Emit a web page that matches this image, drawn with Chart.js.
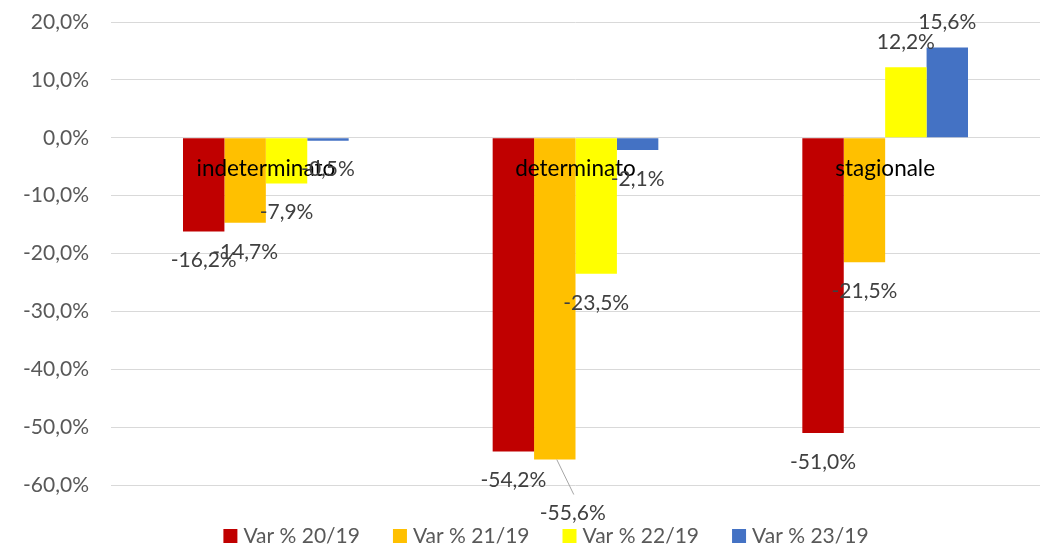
<!DOCTYPE html>
<html><head><meta charset="utf-8">
<script src="https://cdn.jsdelivr.net/npm/chart.js@4.4.0/dist/chart.umd.min.js"></script>
<style>html,body{margin:0;padding:0;background:#fff}#wrap{width:1051px;height:548px}</style>
</head><body><div id="wrap"><canvas id="c" width="1051" height="548"></canvas></div>
<script>
const categories = ["indeterminato", "determinato", "stagionale"];
const var2019 = [-16.2, -54.2, -51.0];
const var2119 = [-14.7, -55.6, -21.5];
const var2219 = [-7.9, -23.5, 12.2];
const var2319 = [-0.5, -2.1, 15.6];
const seriesNames = ["Var % 20/19", "Var % 21/19", "Var % 22/19", "Var % 23/19"];
const seriesColors = ["#C00000", "#FFC000", "#FFFF00", "#4472C4"];
const yTicks = [-60, -50, -40, -30, -20, -10, 0, 10, 20];

const FONT = "Lato, 'Liberation Sans', sans-serif";
const FS = 21;
const FS_CAT = 22.5;
const fmt = v => v.toFixed(1).replace('.', ',') + '%';

const labelPlugin = {
  id: 'labels',
  afterDatasetsDraw(chart) {
    const ctx = chart.ctx;
    const y = chart.scales.y;
    ctx.save();
    ctx.textAlign = 'center';
    ctx.textBaseline = 'middle';
    const meta0 = chart.getDatasetMeta(0);
    const meta3 = chart.getDatasetMeta(3);
    ctx.font = FS_CAT + "px " + FONT;
    ctx.fillStyle = '#000000';
    categories.forEach((c, i) => {
      const cx = (meta0.data[i].x + meta3.data[i].x) / 2;
      ctx.fillText(c, cx, y.getPixelForValue(0) + 31);
    });
    ctx.font = FS + "px " + FONT;
    ctx.fillStyle = '#404040';
    chart.data.datasets.forEach((ds, di) => {
      const meta = chart.getDatasetMeta(di);
      meta.data.forEach((bar, i) => {
        const v = ds.data[i];
        let lx = bar.x, ly = v < 0 ? bar.y + 29 : bar.y - 25;
        if (di === 1 && i === 1) {
          lx = bar.x + 18; ly = bar.y + 54;
          ctx.save();
          ctx.strokeStyle = '#A6A6A6';
          ctx.lineWidth = 1;
          ctx.beginPath();
          ctx.moveTo(bar.x + 2, bar.y);
          ctx.lineTo(lx + 1, ly - 19);
          ctx.stroke();
          ctx.restore();
        }
        ctx.fillText(fmt(v), lx, ly);
      });
    });
    // legend
    ctx.textAlign = 'left';
    const box = 14, gapBT = 6, gapItems = 33;
    const widths = seriesNames.map(n => ctx.measureText(n).width);
    const total = widths.reduce((a, w) => a + box + gapBT + w, 0) + gapItems * (seriesNames.length - 1);
    let x = 546 - total / 2;
    const ly = 536;
    seriesNames.forEach((n, i) => {
      ctx.fillStyle = seriesColors[i];
      ctx.fillRect(x, ly - box / 2, box, box);
      ctx.fillStyle = '#595959';
      ctx.fillText(n, x + box + gapBT, ly);
      x += box + gapBT + widths[i] + gapItems;
    });
    ctx.restore();
  }
};

new Chart(document.getElementById('c'), {
  type: 'bar',
  data: {
    labels: categories,
    datasets: [var2019, var2119, var2219, var2319].map((d, i) => ({
      label: seriesNames[i], data: d, backgroundColor: seriesColors[i],
      borderWidth: 0, categoryPercentage: 0.535, barPercentage: 1
    }))
  },
  options: {
    responsive: false, animation: false,
    layout: { padding: { left: 0, right: 11, top: 22, bottom: 63 } },
    plugins: { legend: { display: false }, tooltip: { enabled: false } },
    scales: {
      x: { display: false },
      y: {
        min: -60, max: 20,
        afterBuildTicks: s => { s.ticks = yTicks.map(v => ({ value: v })); },
        afterFit: s => { s.width = 111; },
        ticks: { callback: v => fmt(v), color: '#595959', font: { family: FONT, size: FS }, padding: 0 },
        grid: { color: '#D9D9D9', drawTicks: true, tickLength: 22, tickColor: 'rgba(0,0,0,0)', lineWidth: 1 },
        border: { display: false }
      }
    }
  },
  plugins: [labelPlugin]
});
</script></body></html>
